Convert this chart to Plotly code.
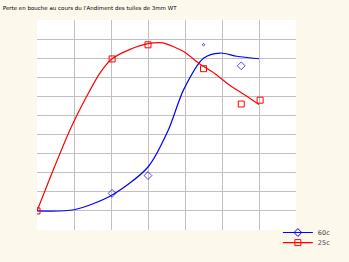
import plotly.graph_objects as go

title_text = "Perte en bouche au cours du l'Andiment des tuiles de 3mm WT"

series_names = ["60c", "25c"]

# smooth curves
curve_60_x = [0, 1, 2.02, 3.0, 3.55, 3.96, 4.5, 4.95, 5.4, 6.0]
curve_60_y = [0, 0.06, 0.82, 2.3, 4.24, 6.34, 8.0, 8.27, 8.1, 7.97]

curve_25_x = [0, 0.45, 0.89, 1.34, 1.7, 2.02, 2.5, 3.0, 3.4, 3.95, 4.4, 4.8, 5.2, 5.6, 6.0]
curve_25_y = [0, 2.2, 4.24, 5.99, 7.22, 7.96, 8.45, 8.76, 8.8, 8.36, 7.7, 7.2, 6.6, 6.1, 5.57]

# measured points
pts_60_x = [2.03, 3.0, 4.5, 5.52]
pts_60_y = [0.92, 1.85, 8.7, 7.6]

pts_25_x = [0, 2.03, 3.0, 4.5, 5.52, 6.03]
pts_25_y = [0, 7.96, 8.7, 7.45, 5.6, 5.8]

x_ticks = [0, 1, 2, 3, 4, 5, 6, 7]
y_ticks = [0, 1, 2, 3, 4, 5, 6, 7, 8, 9]

BLUE = "#0000ff"
RED = "#ff0000"

fig = go.Figure()

fig.add_trace(go.Scatter(x=curve_60_x, y=curve_60_y, mode="lines",
                         line=dict(color=BLUE, width=1.2, shape="spline", smoothing=0.8),
                         showlegend=False, hoverinfo="skip"))
fig.add_trace(go.Scatter(x=curve_25_x, y=curve_25_y, mode="lines",
                         line=dict(color=RED, width=1.2, shape="spline", smoothing=0.7),
                         showlegend=False, hoverinfo="skip"))
fig.add_trace(go.Scatter(x=pts_60_x, y=pts_60_y, mode="markers",
                         marker=dict(symbol="diamond-open", color=BLUE, size=[6, 6, 2, 6],
                                     line=dict(width=1, color=BLUE)),
                         showlegend=False))
fig.add_trace(go.Scatter(x=pts_25_x, y=pts_25_y, mode="markers",
                         marker=dict(symbol="square-open", color=RED, size=6,
                                     line=dict(width=1, color=RED)),
                         showlegend=False))

# legend entries
fig.add_trace(go.Scatter(x=[None], y=[None], mode="lines+markers", name=series_names[0],
                         line=dict(color=BLUE, width=1.2), legend="legend",
                         marker=dict(symbol="diamond-open", color=BLUE, size=6)))
fig.add_trace(go.Scatter(x=[None], y=[None], mode="lines+markers", name=series_names[1],
                         line=dict(color=RED, width=1.2), legend="legend2",
                         marker=dict(symbol="square-open", color=RED, size=6)))

legend_font = dict(family="DejaVu Sans", size=6.5, color="#444444")

fig.update_layout(
    width=349, height=262,
    margin=dict(l=37, r=53, t=20, b=32, pad=0, autoexpand=False),
    paper_bgcolor="#fdf8ec",
    plot_bgcolor="#ffffff",
    title=dict(text=title_text, x=0.008, xanchor="left", xref="container",
               y=0.975, yanchor="top", yref="container",
               font=dict(family="DejaVu Sans", size=5.5, color="#000000")),
    xaxis=dict(range=[0, 7], tickvals=x_ticks, showticklabels=False, showgrid=True,
               gridcolor="#c0c0c0", gridwidth=1, zeroline=False, showline=False, ticks=""),
    yaxis=dict(range=[-1, 10], tickvals=y_ticks, showticklabels=False, showgrid=True,
               gridcolor="#c0c0c0", gridwidth=1, zeroline=False, showline=False, ticks=""),
    legend=dict(x=0.93, xanchor="left", y=-0.012, yanchor="middle", bgcolor="rgba(0,0,0,0)",
                font=legend_font, itemwidth=30),
    legend2=dict(x=0.93, xanchor="left", y=-0.06, yanchor="middle", bgcolor="rgba(0,0,0,0)",
                 font=legend_font, itemwidth=30),
    showlegend=True,
)

fig.write_html("out.html")
